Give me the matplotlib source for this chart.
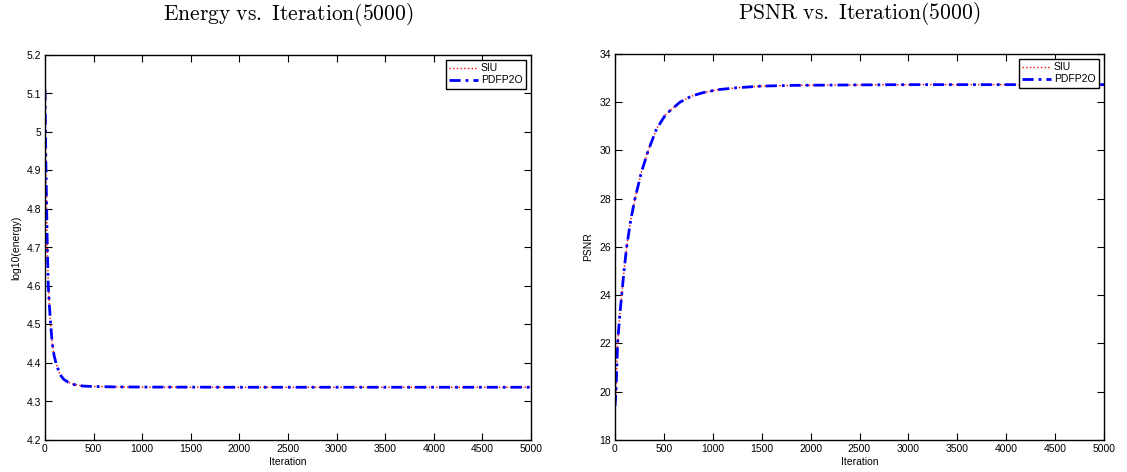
import matplotlib
matplotlib.use("Agg")
import matplotlib.pyplot as plt

plt.rcParams['font.family'] = ['Liberation Sans', 'DejaVu Sans']
plt.rcParams['mathtext.fontset'] = 'cm'

# Energy (log10) vs iteration
energy_iter = [0, 5, 10, 17, 24, 34, 45, 58, 75, 93, 113, 133, 154, 195, 240, 300, 395, 500, 700, 1000, 2000, 3000, 4000, 5000]
energy_pdfp2o = [5.11, 5.00, 4.90, 4.80, 4.70, 4.60, 4.55, 4.50, 4.45, 4.42, 4.40, 4.385, 4.37, 4.357, 4.35, 4.344, 4.34, 4.339, 4.338, 4.3375, 4.337, 4.337, 4.337, 4.337]
energy_siu = [5.11, 5.00, 4.90, 4.80, 4.70, 4.60, 4.55, 4.50, 4.45, 4.42, 4.40, 4.385, 4.37, 4.357, 4.35, 4.344, 4.34, 4.339, 4.338, 4.3375, 4.337, 4.337, 4.337, 4.337]

# PSNR vs iteration
psnr_iter = [0, 10, 18, 27, 45, 68, 92, 119, 160, 204, 270, 340, 425, 520, 663, 780, 901, 1050, 1241, 1500, 1820, 2500, 3000, 4000, 5000]
psnr_pdfp2o = [19.4, 20.0, 21.0, 22.0, 23.0, 24.0, 25.0, 26.0, 27.1, 28.0, 29.1, 30.0, 30.9, 31.5, 32.0, 32.25, 32.4, 32.52, 32.6, 32.67, 32.7, 32.72, 32.73, 32.73, 32.73]
psnr_siu = [19.4, 20.0, 21.0, 22.0, 23.0, 24.0, 25.0, 26.0, 27.1, 28.0, 29.1, 30.0, 30.9, 31.5, 32.0, 32.25, 32.4, 32.52, 32.6, 32.67, 32.7, 32.72, 32.73, 32.73, 32.73]

titles = ['Energy vs. Iteration(5000)', 'PSNR vs. Iteration(5000)']
ylabels = ['log10(energy)', 'PSNR']
xlabel = 'Iteration'
legend_labels = ['SIU', 'PDFP2O']
xticks = [0, 500, 1000, 1500, 2000, 2500, 3000, 3500, 4000, 4500, 5000]
energy_yticks = [4.2, 4.3, 4.4, 4.5, 4.6, 4.7, 4.8, 4.9, 5.0, 5.1, 5.2]
energy_yticklabels = ['4.2', '4.3', '4.4', '4.5', '4.6', '4.7', '4.8', '4.9', '5', '5.1', '5.2']
psnr_yticks = [18, 20, 22, 24, 26, 28, 30, 32, 34]

W, H = 1127, 472
fig = plt.figure(figsize=(W / 100, H / 100), dpi=100)

def make_ax(x0, x1, y0, y1):
    return fig.add_axes([x0 / W, 1 - y1 / H, (x1 - x0) / W, (y1 - y0) / H])

ax1 = make_ax(45, 531, 55, 440)
ax2 = make_ax(615, 1104, 54, 440)

fs = 7.5
blue_dashes = (4, 1.8, 1, 1.8)

def style(ax, title, ylabel, yticks, ylim, yticklabels=None):
    ax.set_xlim(0, 5000)
    ax.set_ylim(*ylim)
    ax.set_xticks(xticks)
    ax.set_xticklabels([str(t) for t in xticks])
    ax.set_yticks(yticks)
    if yticklabels is not None:
        ax.set_yticklabels(yticklabels)
    ax.tick_params(direction='in', top=True, right=True, length=5, width=0.8,
                   labelsize=fs, pad=3)
    for s in ax.spines.values():
        s.set_linewidth(1.0)
    ax.set_xlabel(xlabel, fontsize=fs, labelpad=2)
    ax.set_ylabel(ylabel, fontsize=fs, labelpad=4)
    ax.set_title(r'$\mathrm{' + title.replace(' ', r'\ ') + '}$', fontsize=15.5, pad=25)
    leg = ax.legend(loc='upper right', bbox_to_anchor=(1, 1), borderaxespad=0.5,
                    fontsize=fs, fancybox=False, framealpha=1, edgecolor='black',
                    handlelength=2.8, handletextpad=0.3, borderpad=0.3, labelspacing=0.2)
    leg.get_frame().set_linewidth(1.0)

ax1.plot(energy_iter, energy_siu, color='red', linestyle=':', linewidth=1.0, label=legend_labels[0])
ax1.plot(energy_iter, energy_pdfp2o, color='blue', linestyle=(0, blue_dashes), linewidth=2.0, label=legend_labels[1])
style(ax1, titles[0], ylabels[0], energy_yticks, (4.2, 5.2), energy_yticklabels)

ax2.plot(psnr_iter, psnr_siu, color='red', linestyle=':', linewidth=1.0, label=legend_labels[0])
ax2.plot(psnr_iter, psnr_pdfp2o, color='blue', linestyle=(0, blue_dashes), linewidth=2.0, label=legend_labels[1])
style(ax2, titles[1], ylabels[1], psnr_yticks, (18, 34))

fig.savefig('out.png', dpi=100)
